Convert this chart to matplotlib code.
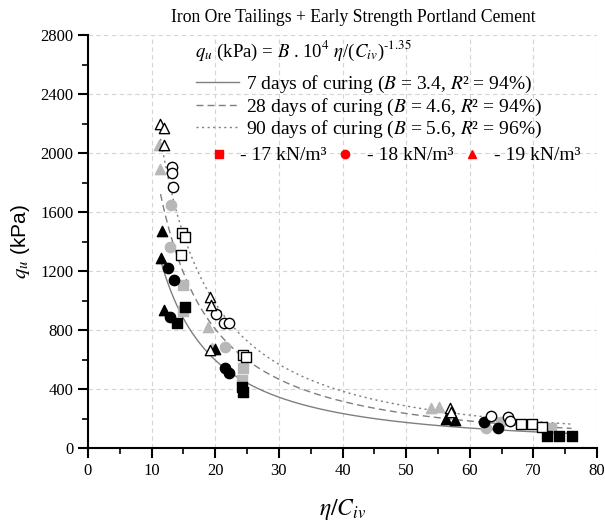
import numpy as np
import matplotlib
matplotlib.use("Agg")
import matplotlib.pyplot as plt
from matplotlib.lines import Line2D

plt.rcParams['font.family'] = ['Liberation Serif', 'DejaVu Serif']
plt.rcParams['mathtext.fontset'] = 'stix'

# fitted curves q_u = B * 1e4 * (eta/Civ)^-1.35
curing_days = [7, 28, 90]
B_values = [3.4, 4.6, 5.6]
R2_values = [94, 94, 96]
exponent = -1.35
curve_x_range = (11.4, 76.0)

# measured points (eta/Civ, qu) per curing time and unit weight
# 7 days - black
d7_sq_x = [14.0, 15.2, 24.2, 24.4, 72.1, 74.0, 76.1]
d7_sq_y = [845, 955, 416, 382, 83, 83, 80]
d7_ci_x = [12.65, 13.45, 12.9, 21.55, 22.1, 62.3, 64.5]
d7_ci_y = [1218, 1140, 890, 540, 506, 178, 133]
d7_tr_x = [11.6, 11.5, 11.9, 19.9, 56.2, 57.7]
d7_tr_y = [1473, 1286, 935, 670, 197, 190]
# 28 days - grey
d28_sq_x = [15.0, 15.0, 24.4, 24.2, 72.8]
d28_sq_y = [1105, 930, 540, 461, 138]
d28_ci_x = [13.0, 12.9, 21.55, 62.6, 64.9]
d28_ci_y = [1647, 1365, 687, 133, 178]
d28_tr_x = [11.35, 11.2, 18.9, 19.5, 53.9, 55.2]
d28_tr_y = [1889, 2054, 818, 680, 269, 280]
# 90 days - open
d90_sq_x = [14.75, 15.3, 14.6, 24.4, 24.85, 68.1, 69.8, 71.3]
d90_sq_y = [1460, 1433, 1308, 630, 615, 166, 166, 144]
d90_ci_x = [13.2, 13.2, 13.4, 20.1, 21.3, 22.1, 63.3, 66.0, 66.3]
d90_ci_y = [1907, 1866, 1767, 906, 850, 850, 219, 212, 183]
d90_tr_x = [11.35, 11.9, 12.0, 19.2, 19.3, 19.2, 56.9, 57.0]
d90_tr_y = [2197, 2167, 2054, 1026, 970, 665, 273, 246]

unit_weights = ['17', '18', '19']

grey = '#b8b8b8'
line_grey = '#7f7f7f'

fig = plt.figure(figsize=(6.05, 5.22), dpi=100)
ax = fig.add_axes([88/605, 74/522, 509/605, 413/522])

styles = ['-', (0, (5, 3)), (0, (1.5, 2.5))]
xs = np.linspace(curve_x_range[0], curve_x_range[1], 300)
lines = []
for B, ls in zip(B_values, styles):
    l, = ax.plot(xs, B * 1e4 * xs ** exponent, color=line_grey, lw=1.0, ls=ls, zorder=2)
    lines.append(l)

ms = 55
def pts(x, y, marker, face, edge):
    ax.scatter(x, y, s=ms, marker=marker, c=face, edgecolors=edge, linewidths=1.0, zorder=3)

pts(d28_sq_x, d28_sq_y, 's', grey, grey)
pts(d28_ci_x, d28_ci_y, 'o', grey, grey)
pts(d28_tr_x, d28_tr_y, '^', grey, grey)
pts(d7_sq_x, d7_sq_y, 's', 'black', 'black')
pts(d7_ci_x, d7_ci_y, 'o', 'black', 'black')
pts(d7_tr_x, d7_tr_y, '^', 'black', 'black')
pts(d90_sq_x, d90_sq_y, 's', 'white', 'black')
pts(d90_ci_x, d90_ci_y, 'o', 'white', 'black')
pts(d90_tr_x, d90_tr_y, '^', 'white', 'black')

ax.set_xlim(0, 80)
ax.set_ylim(0, 2800)
ax.set_xticks(np.arange(0, 81, 10))
ax.set_yticks(np.arange(0, 2801, 400))
ax.set_xticks(np.arange(5, 80, 10), minor=True)
ax.set_yticks(np.arange(200, 2800, 400), minor=True)
ax.grid(True, which='major', ls=(0, (4, 3)), color='#d4d4d4', lw=0.8, zorder=0)
ax.set_axisbelow(True)
for s in ['top', 'right']:
    ax.spines[s].set_visible(False)
for s in ['left', 'bottom']:
    ax.spines[s].set_linewidth(1.5)
ax.tick_params(which='major', direction='out', length=7, width=1.5, labelsize=12)
ax.tick_params(which='minor', direction='out', length=4, width=1.2)

ax.set_xlabel(r'$\eta/C_{iv}$', fontsize=17, labelpad=13)
ax.set_ylabel(r'$q_u$ (kPa)', fontsize=15, family='Liberation Sans', labelpad=6)

fig.text(353/605, 1 - 18/522, 'Iron Ore Tailings + Early Strength Portland Cement',
         ha='center', va='center', fontsize=12.7)

fig.text(195/605, 1 - 51/522, r'$q_u$ (kPa) = $B$ . 10$^4$ $\eta$/($C_{iv}$)$^{\text{-1.35}}$',
         ha='left', va='center', fontsize=13.5)

labels = [f'{d} days of curing ($B$ = {b}, $R$² = {r}%)'
          for d, b, r in zip(curing_days, B_values, R2_values)]
leg1 = ax.legend(lines, labels, loc='upper left', bbox_to_anchor=(188/605, 1 - 66/522),
                 bbox_transform=fig.transFigure, frameon=False, fontsize=14,
                 handlelength=2.2, handletextpad=0.36, labelspacing=0.08, borderaxespad=0)
ax.add_artist(leg1)

mk_handles = [Line2D([], [], ls='none', marker=m, color='red', markersize=6)
              for m in ['s', 'o', '^']]
mk_labels = [f'- {w} kN/m³' for w in unit_weights]
ax.legend(mk_handles, mk_labels, loc='upper left', bbox_to_anchor=(201/605, 1 - 139/522),
          bbox_transform=fig.transFigure, frameon=False, fontsize=14, ncol=3,
          handlelength=1.0, handletextpad=0.63, columnspacing=0.45, borderaxespad=0)

fig.savefig('out.png', dpi=100)
